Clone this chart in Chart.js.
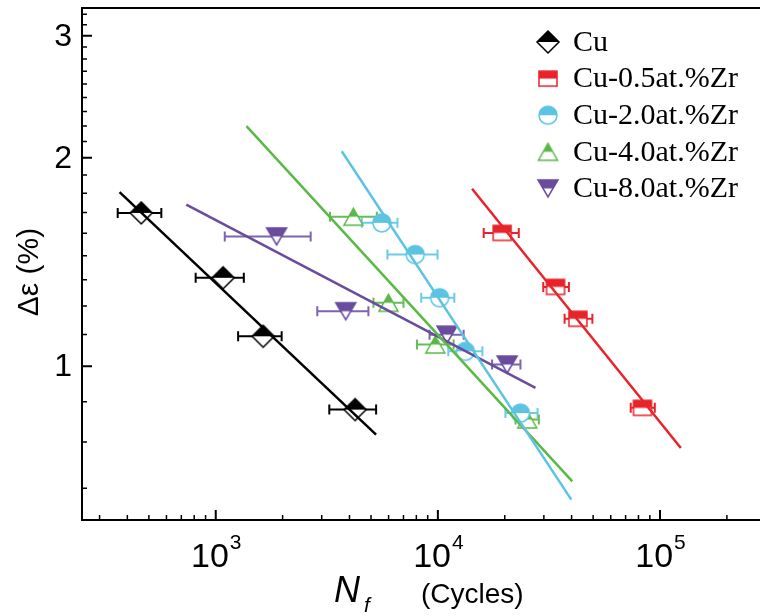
<!DOCTYPE html>
<html>
<head>
<meta charset="utf-8">
<script src="https://cdn.jsdelivr.net/npm/chart.js@4.4.1/dist/chart.umd.min.js"></script>
<style>
  html, body { margin: 0; padding: 0; background: #fff; overflow: hidden; }
  canvas { display: block; }
</style>
</head>
<body>
<!-- the frame runs on a few pixels past the window's right edge -->
<canvas id="fatigue" width="766" height="616"></canvas>
<script>
// fatigue life vs strain amplitude, Cu and Cu-Zr alloys
var seriesLabels = ['Cu', 'Cu-0.5at.%Zr', 'Cu-2.0at.%Zr', 'Cu-4.0at.%Zr', 'Cu-8.0at.%Zr'];
var seriesColors = ['#000000', '#e8232a', '#5cc4e2', '#5ab946', '#6a4c9f'];
var seriesShapes = ['diamond', 'square', 'circle', 'triangle', 'triangleDown'];

// Cu
var cuCycles = [462, 1079, 1635, 4240];
var cuStrain = [1.665, 1.342, 1.105, 0.866];
var cuLow = [362, 812, 1261, 3245];
var cuHigh = [569, 1338, 1980, 5272];
var cuFitCycles = [369, 5270];
var cuFitStrain = [1.784, 0.797];

// Cu-0.5at.%Zr
var zr05Cycles = [19470, 33860, 42700, 83370];
var zr05Strain = [1.558, 1.302, 1.171, 0.871];
var zr05Low = [16080, 29810, 37190, 73820];
var zr05High = [23130, 38890, 49600, 94740];
var zr05FitCycles = [14250, 124100];
var zr05FitStrain = [1.804, 0.762];

// Cu-2.0at.%Zr
var zr2Cycles = [5594, 7907, 10178, 13290, 23540];
var zr2Strain = [1.611, 1.450, 1.256, 1.051, 0.856];
var zr2Low = [4545, 5930, 8415, 11140, 20140];
var zr2High = [6579, 9968, 11860, 15860, 28100];
var zr2FitCycles = [3692, 39880];
var zr2FitStrain = [2.044, 0.642];

// Cu-4.0at.%Zr
var zr4Cycles = [4166, 5993, 9733, 25240];
var zr4Strain = [1.644, 1.235, 1.075, 0.838];
var zr4Low = [3268, 5129, 8049, 22360];
var zr4High = [5311, 7003, 11775, 28480];
var zr4FitCycles = [1375, 40290];
var zr4FitStrain = [2.222, 0.682];

// Cu-8.0at.%Zr
var zr8Cycles = [1879, 3848, 10991, 20510];
var zr8Strain = [1.540, 1.201, 1.111, 1.006];
var zr8Low = [1098, 2865, 9174, 17540];
var zr8High = [2675, 4867, 13062, 23540];
var zr8FitCycles = [737, 27510];
var zr8FitStrain = [1.712, 0.931];

// axis ticks
var xTickValues = [1e3, 1e4, 1e5];
var xTickExponents = ['3', '4', '5'];
var yTickValues = [1, 2, 3];

var allCycles = [cuCycles, zr05Cycles, zr2Cycles, zr4Cycles, zr8Cycles];
var allStrain = [cuStrain, zr05Strain, zr2Strain, zr4Strain, zr8Strain];
var allLow = [cuLow, zr05Low, zr2Low, zr4Low, zr8Low];
var allHigh = [cuHigh, zr05High, zr2High, zr4High, zr8High];
var allFitCycles = [cuFitCycles, zr05FitCycles, zr2FitCycles, zr4FitCycles, zr8FitCycles];
var allFitStrain = [cuFitStrain, zr05FitStrain, zr2FitStrain, zr4FitStrain, zr8FitStrain];

// error bars a shade lighter than the symbols
var barColors = ['#000000', '#e8232a', '#6ccbe6', '#66bd55', '#7b65ad'];

var markerSize = {
  diamond: [22, 22], square: [18, 15], circle: [18, 18], triangle: [19, 17], triangleDown: [20, 17]
};

// half filled symbol: top half solid, bottom half open
function makeMarker(shape, color) {
  var w = markerSize[shape][0], h = markerSize[shape][1];
  var c = document.createElement('canvas');
  c.width = w + 4; c.height = h + 4;
  var g = c.getContext('2d');
  g.translate(c.width / 2, c.height / 2);
  function path() {
    g.beginPath();
    if (shape == 'diamond') {
      g.moveTo(0, -h / 2); g.lineTo(w / 2, 0); g.lineTo(0, h / 2); g.lineTo(-w / 2, 0);
    } else if (shape == 'square') {
      g.rect(-w / 2, -h / 2, w, h);
    } else if (shape == 'circle') {
      g.arc(0, 0, w / 2, 0, Math.PI * 2);
    } else if (shape == 'triangle') {
      g.moveTo(0, -h / 2); g.lineTo(w / 2, h / 2); g.lineTo(-w / 2, h / 2);
    } else {
      g.moveTo(-w / 2, -h / 2); g.lineTo(w / 2, -h / 2); g.lineTo(0, h / 2);
    }
    g.closePath();
  }
  path(); g.fillStyle = '#fff'; g.fill();
  g.save();
  g.beginPath(); g.rect(-c.width / 2, -c.height / 2, c.width, c.height / 2); g.clip();
  path(); g.fillStyle = color; g.fill();
  g.restore();
  path(); g.lineWidth = 1.5; g.strokeStyle = color; g.stroke();
  return c;
}

var markers = seriesShapes.map(function (s, i) { return makeMarker(s, seriesColors[i]); });

var datasets = [];
for (var i = 0; i < seriesLabels.length; i++) {
  datasets.push({
    type: 'scatter',
    label: seriesLabels[i],
    data: allCycles[i].map(function (x, k) { return { x: x, y: this[k] }; }, allStrain[i]),
    pointStyle: markers[i],
    pointRadius: 10,
    order: 2
  });
  datasets.push({
    type: 'line',
    label: seriesLabels[i] + ' fit',
    data: allFitCycles[i].map(function (x, k) { return { x: x, y: this[k] }; }, allFitStrain[i]),
    borderColor: seriesColors[i],
    borderWidth: 2.5,
    pointRadius: 0,
    fill: false,
    order: 1
  });
}

function minorTicksY() {
  var out = [];
  for (var base = 0; base <= 3; base++) {
    for (var k = 1; k <= 8; k++) out.push(base + k / 9);
  }
  return out;
}
function minorTicksX() {
  var out = [];
  for (var e = 2; e <= 5; e++) {
    for (var m = 2; m <= 9; m++) out.push(m * Math.pow(10, e));
  }
  return out;
}

var axesDecor = {
  id: 'axesDecor',
  beforeDraw: function (chart) {
    var ctx = chart.ctx;
    ctx.save();
    ctx.fillStyle = '#fff';
    ctx.fillRect(0, 0, chart.width, chart.height);
    ctx.restore();
  },
  beforeDatasetsDraw: function (chart) {
    // horizontal error bars
    var ctx = chart.ctx, xs = chart.scales.x, ys = chart.scales.y;
    ctx.save();
    ctx.lineWidth = 2;
    for (var i = 0; i < seriesLabels.length; i++) {
      ctx.strokeStyle = barColors[i];
      for (var k = 0; k < allCycles[i].length; k++) {
        var y = ys.getPixelForValue(allStrain[i][k]);
        var x1 = xs.getPixelForValue(allLow[i][k]);
        var x2 = xs.getPixelForValue(allHigh[i][k]);
        ctx.beginPath();
        ctx.moveTo(x1, y); ctx.lineTo(x2, y);
        ctx.moveTo(x1, y - 5); ctx.lineTo(x1, y + 5);
        ctx.moveTo(x2, y - 5); ctx.lineTo(x2, y + 5);
        ctx.stroke();
      }
    }
    ctx.restore();
  },
  afterDraw: function (chart) {
    var ctx = chart.ctx, xs = chart.scales.x, ys = chart.scales.y, a = chart.chartArea;
    ctx.save();
    ctx.strokeStyle = '#000';
    ctx.lineWidth = 2;
    ctx.beginPath();
    ctx.moveTo(a.left - 1, a.top); ctx.lineTo(a.right, a.top);
    ctx.stroke();

    // inward ticks
    ctx.lineWidth = 1.5;
    ctx.beginPath();
    minorTicksX().forEach(function (v) {
      if (v < xs.min || v >= xs.max) return;
      var x = xs.getPixelForValue(v);
      ctx.moveTo(x, a.bottom); ctx.lineTo(x, a.bottom - 5);
    });
    minorTicksY().forEach(function (v) {
      if (v < ys.min || v > ys.max || Math.abs(v - Math.round(v)) < 1e-6) return;
      var y = ys.getPixelForValue(v);
      ctx.moveTo(a.left, y); ctx.lineTo(a.left + 5, y);
    });
    ctx.stroke();
    ctx.lineWidth = 2;
    ctx.beginPath();
    xTickValues.forEach(function (v) {
      var x = xs.getPixelForValue(v);
      ctx.moveTo(x, a.bottom); ctx.lineTo(x, a.bottom - 10);
    });
    yTickValues.forEach(function (v) {
      var y = ys.getPixelForValue(v);
      ctx.moveTo(a.left, y); ctx.lineTo(a.left + 10, y);
    });
    ctx.stroke();

    // tick labels
    ctx.fillStyle = '#000';
    ctx.textBaseline = 'middle';
    ctx.textAlign = 'right';
    ctx.font = '32px "Liberation Sans", Arial, sans-serif';
    yTickValues.forEach(function (v) {
      ctx.fillText(String(v), a.left - 10, ys.getPixelForValue(v) + 1);
    });
    ctx.textBaseline = 'alphabetic';
    ctx.textAlign = 'left';
    xTickValues.forEach(function (v, i) {
      ctx.font = '34px "Liberation Sans", Arial, sans-serif';
      var wb = ctx.measureText('10').width;
      ctx.font = '21px "Liberation Sans", Arial, sans-serif';
      var we = ctx.measureText(xTickExponents[i]).width;
      var x0 = xs.getPixelForValue(v) - (wb + we) / 2;
      ctx.font = '34px "Liberation Sans", Arial, sans-serif';
      ctx.fillText('10', x0, 567);
      ctx.font = '21px "Liberation Sans", Arial, sans-serif';
      ctx.fillText(xTickExponents[i], x0 + wb + 1, 549);
    });

    // axis titles
    ctx.font = 'italic 36px "Liberation Sans", Arial, sans-serif';
    ctx.fillText('N', 334, 602);
    ctx.font = 'italic 21px "Liberation Sans", Arial, sans-serif';
    ctx.fillText('f', 364, 612);
    ctx.font = '28px "Liberation Sans", Arial, sans-serif';
    ctx.fillText('(Cycles)', 421, 603);

    ctx.save();
    ctx.translate(38, 272);
    ctx.rotate(-Math.PI / 2);
    ctx.textAlign = 'center';
    ctx.font = '30px "Liberation Sans", Arial, sans-serif';
    ctx.fillText('\u0394\u03b5 (%)', 0, 0);
    ctx.restore();

    // legend
    ctx.font = '30px "Liberation Serif", "Times New Roman", serif';
    ctx.textBaseline = 'middle';
    ctx.textAlign = 'left';
    seriesLabels.forEach(function (label, i) {
      var y = 42 + i * 36.6;
      var m = markers[i];
      ctx.drawImage(m, 548 - m.width / 2, y - m.height / 2);
      ctx.fillText(label, 573, y + 1);
    });
    ctx.restore();
  }
};

new Chart(document.getElementById('fatigue'), {
  type: 'scatter',
  data: { datasets: datasets },
  options: {
    responsive: false,
    animation: false,
    devicePixelRatio: 1,
    layout: { autoPadding: false, padding: { left: 82, top: 8, right: 0, bottom: 96 } },
    plugins: { legend: { display: false }, tooltip: { enabled: false } },
    scales: {
      x: {
        type: 'logarithmic',
        min: 250,
        max: 300000,
        ticks: { display: false },
        grid: { display: false, drawTicks: false },
        border: { display: true, color: '#000', width: 2 }
      },
      y: {
        type: 'logarithmic',
        min: 0.6006,
        max: 3.29,
        ticks: { display: false },
        grid: { display: false, drawTicks: false },
        border: { display: true, color: '#000', width: 2 }
      }
    }
  },
  plugins: [axesDecor]
});
</script>
</body>
</html>
